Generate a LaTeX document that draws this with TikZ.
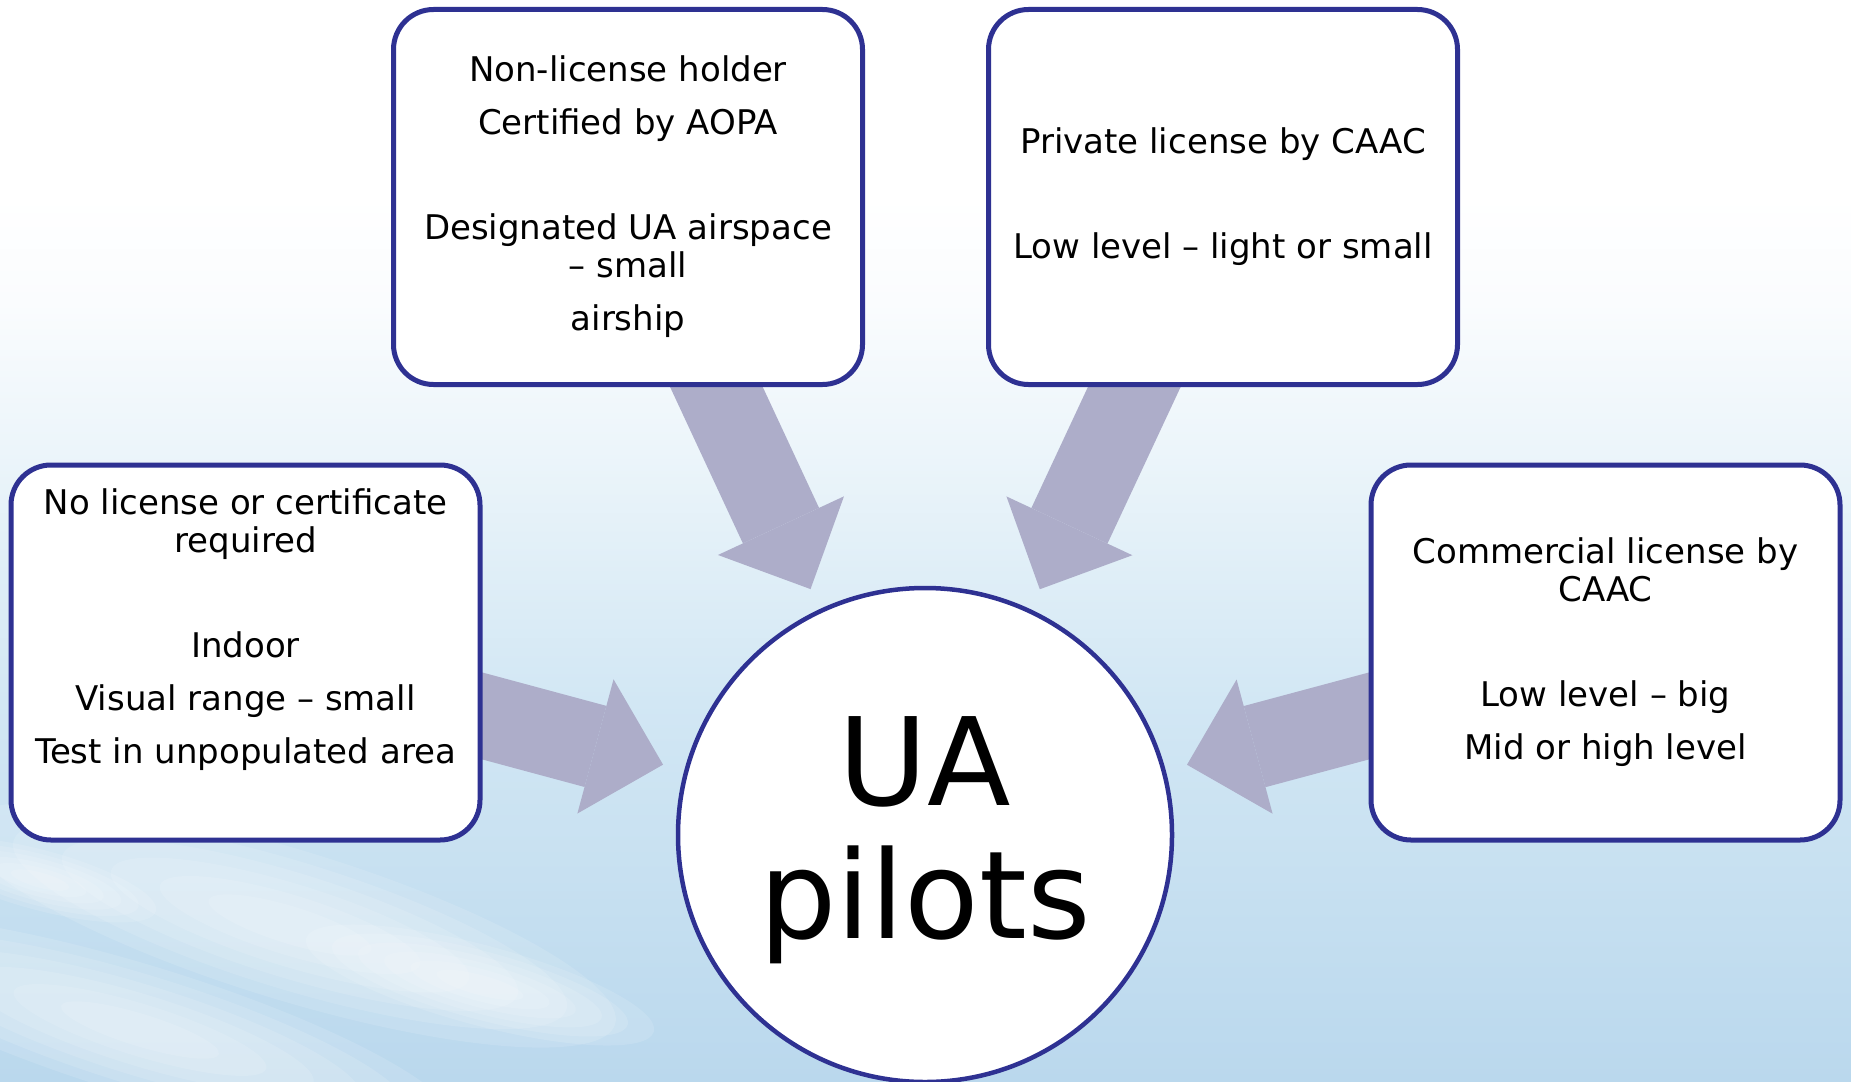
\documentclass[tikz,border=0pt]{standalone}
\usepackage{fontspec}
\setmainfont{DejaVu Sans}
\usetikzlibrary{arrows.meta, backgrounds, calc}
\definecolor{boxline}{RGB}{46,49,146}
\definecolor{arrowfill}{RGB}{173,173,201}
\definecolor{skytop}{RGB}{250,252,254}
\definecolor{skymid}{RGB}{236,245,250}
\definecolor{skylow}{RGB}{210,231,244}
\definecolor{skybot}{RGB}{186,216,237}
\pgfdeclareverticalshading{sky}{100bp}{color(0bp)=(skybot); color(25bp)=(skybot);
  color(42.6bp)=(skylow); color(54.2bp)=(skymid); color(61bp)=(skytop);
  color(66bp)=(white); color(100bp)=(white)}
\tikzset{%
  licbox/.style={draw=boxline, line width=5pt, fill=white, rounded corners=40pt,
    minimum width=469pt, minimum height=375pt, inner sep=0pt, align=center,
    font=\fontsize{34}{38}\selectfont},
  hub/.style={draw=boxline, line width=4.5pt, fill=white, circle, minimum size=494pt,
    inner sep=0pt, align=center, text depth=14pt, font=\fontsize{122}{133}\selectfont},
  bigarrow/.style={arrowfill, line width=84pt,
    -{Triangle[length=70pt, width=139pt, line width=0pt]},
    shorten <=-40pt, shorten >=22pt},
  cloud/.style={white, opacity=0.12}
}

\begin{document}
\begin{tikzpicture}[x=1pt, y=1pt]
  \useasboundingbox (0,0) rectangle (1851,-1081);

  \node[hub] (ua) at (925,-835) {UA\\pilots};

  \node[licbox] (lnone) at (245.5,-652.5) {No license or certificate\\required\\[67pt]Indoor\\[15pt]Visual range -- small\\[15pt]Test in unpopulated area\\[15pt]~};
  \node[licbox] (laopa) at (628,-197) {Non-license holder\\[15pt]Certified by AOPA\\[67pt]Designated UA airspace\\-- small\\[15pt]airship};
  \node[licbox] (lpriv) at (1223,-197) {Private license by CAAC\\[67pt]Low level -- light or small};
  \node[licbox] (lcomm) at (1605.5,-652.5) {Commercial license by\\CAAC\\[67pt]Low level -- big\\[15pt]Mid or high level};

  \begin{scope}[on background layer]
    \shade[shading=sky] (0,0) rectangle (1851,-1081);
    % clouds, bottom left
    \foreach \cx/\cy/\rx/\ry/\ang in {290/-925/340/75/-17, 140/-1030/330/65/-17, 480/-985/180/40/-15, 40/-880/120/30/-15} {
      \begin{scope}[shift={(\cx,\cy)}, rotate=\ang]
        \foreach \s in {1,0.85,0.7,0.55,0.4,0.25}
          \fill[cloud] (0,0) ellipse ({\rx*\s} and {\ry*\s});
      \end{scope}
    }

    \draw[bigarrow] (lnone) -- (ua);
    \draw[bigarrow] (laopa) -- (ua);
    \draw[bigarrow] (lpriv) -- (ua);
    \draw[bigarrow] (lcomm) -- (ua);
  \end{scope}
\end{tikzpicture}
\end{document}
